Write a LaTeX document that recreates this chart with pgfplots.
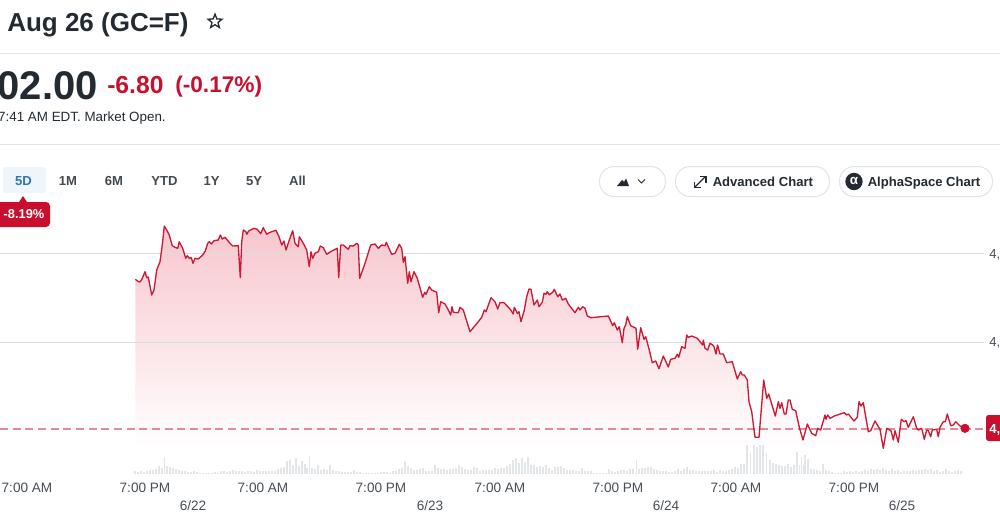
\documentclass[border=0pt]{standalone}
\usepackage{pgfplots}
\usepackage{pgfplotstable}
\pgfplotsset{compat=1.18}
\usetikzlibrary{shapes.geometric}
\usepackage{fontspec}
\setmainfont{Liberation Sans}
\newcommand\fs[1]{\fontsize{#1}{#1}\selectfont}
\definecolor{inkdark}{HTML}{232A31}
\definecolor{inkgray}{HTML}{464E56}
\definecolor{rulegray}{HTML}{E0E4E9}
\definecolor{gridgray}{HTML}{DADDE0}
\definecolor{downred}{HTML}{C8102E}
\definecolor{linered}{HTML}{CB1A36}
\definecolor{dashred}{HTML}{E28C96}
\definecolor{fillred}{HTML}{F7C6CD}
\definecolor{volgray}{HTML}{E3E6E9}
\definecolor{tabblue}{HTML}{EEF6FC}
\definecolor{blue5d}{HTML}{2F74BD}
\definecolor{btn}{HTML}{E0E4E9}

\pgfplotstableread{
x y
135.3 279.3
138 281.3
140 282
142 279
145 271.7
146.7 277.7
148.3 277
151.7 295
154 290
156.7 270
160 261.7
162.3 245
164.3 226
166.7 230
169 234.3
172.3 245.7
175 247.3
177.7 248.3
179.3 241.7
182.7 248.3
185.7 258.3
187.3 255.7
189.3 258.3
191.3 257.7
193 263.3
195 258.3
198.3 259
202.7 255
205.3 251
207.7 243.3
209.3 241.7
211.3 244
214 240.7
218.3 240
220.3 235
222.3 239
225 237.3
230 243.3
232.7 246
238.3 245.7
240.3 277.7
241.7 241.7
243.3 230
246 231.7
246.7 234.3
248.7 231
254 228.3
257.3 229.3
260.7 233.7
263.3 227.7
266.7 234.3
269.3 232.7
271.7 231.7
276 230.3
279 236.7
281.7 245
284 241
286 250
289.3 240
292.7 230.7
295 243.3
298.3 246.7
299.3 236.7
303.3 243.3
306.7 250
309.3 266.7
311 251.7
312.7 258.3
315 253.3
318.3 251.7
320.3 246
323.3 247.7
326.7 254.3
331.7 251
337.3 248.3
338.7 277.7
340.7 245
343.3 245
348.3 249.3
350 245.7
353.3 246
356.7 243.3
358.3 245
359.7 278.3
365 263.3
370.7 245
375 244
378.3 248.3
381.7 245
385 245.7
386.3 242.3
391.7 254.3
395 253.3
399.3 244.3
401.7 248.3
403.3 262.3
405 256.7
407.7 283.3
409.3 271.7
411 281.7
414 271.7
417.3 278.3
422.7 297.3
424.7 292.3
426 294.3
429.3 286.7
431.7 290
436.7 292.3
438.7 312.7
440.7 301.7
445 304
448.3 310
450.7 315
452 306.7
453.3 312.3
458.3 312.7
460 307.3
463.3 310
470 331.7
475 325.7
478.3 321.7
481.7 317.3
484.3 310
486 311.7
491 297.7
495 301.7
497.7 309
500 302.7
504 302.7
510 309
513.3 314
514.3 307.3
517.3 313.3
519 311.7
521 321.7
524.3 310
526.7 296.7
529 289
531 289.3
534 305
537.3 300
539 306.7
542.3 302.3
544 293.3
546 294.3
547.3 291.7
549.3 294.7
552.7 292.3
554.3 289.3
557.7 296.7
560 294
562.3 300
565.7 298.3
568.3 304
575 312.7
578.3 307.3
580 310
582.7 306.7
585 308.3
587.3 316
590.7 317.7
595 317.3
608.3 316
612.7 325.7
614.3 322.7
617.3 330
619.3 326.7
622.3 342.7
624 328.3
625.7 325
627.3 316.7
630.7 325.7
636 328.3
637.7 349.3
640.7 327.7
644 339.3
645.7 336.7
649.3 350
652.3 362.7
655.7 361
659 368.7
663.3 356
668.3 367
670.7 359.3
675 358.3
677.3 354.3
678.7 357.3
681.7 346.7
685 348.3
686.7 335
688.3 337.3
691.7 336
697.3 338.3
702.7 345
703.3 340
705 348.3
707.7 350
710 343.3
712.7 345
714 346.7
716 354
717.5 345
720 354
723.3 354
726.7 362.7
732.3 361.7
737.3 379
740.7 371.7
742.3 375
744.3 375
747.3 380
749 401.7
751.7 411.7
755 437.3
759 437.3
763.7 380
766.7 398.3
768.7 394
775.3 416
778.3 401.7
780 408.3
781.7 402.7
784.3 414
786 414
788.3 400
790 400
792.3 409.3
795.7 410.7
799.3 427.3
803 440
807.3 424
811.7 433.3
815.7 435.7
817.7 428.3
820.7 430
825 415
826 419.3
827.7 415
830 418.3
835 415.7
844.3 412.7
846.7 415
848.3 414
854 421
857.3 417.3
859 401.7
861 406
863.3 402.7
868.3 431.7
870.7 430.7
875 421
880 429.3
883.3 448.3
886.7 428.3
891 430.7
893.3 440
895 430.7
898.3 442.3
901.3 419.3
904 421.7
906 420.7
908.3 427.3
913.3 416.7
916.7 428.3
918.3 430
921.7 428.3
924.3 439.3
926.7 430
928.3 430.7
930.7 436.7
932.3 430
936.7 429.3
938.3 436.7
940 427.3
943.3 421.7
945.3 421.7
947.3 414
950.7 425.7
953.3 425
955.7 421.7
960 426
965 428.3
}\pricedata

\pgfplotstableread{
x h
135 3
138 2
141 3
144 2
147 3
150 4
153 4
156 5
159 8
162 6
164.3 17
167 8
170 7
173 6
176 5
179 4
182 3
185 3
188 2
191 2
194 3
197 2
200 1
203 1
206 1
209 1
212 1
215 2
218 1
221 3
224 3
227 2
230 3
233 4
236 3
239 3
242 3
245 2
248 3
251 3
254 2
257 4
260 3
263 3
266 3
269 3
272 3
275 3
278 5
281 6
284 7
287 13
290 14
293 9
296 16
299 8
302 13
305 10
307 6
309.5 18
312 6
315 5
318 9
321 4
324 5
327 4
330 9
333 4
336 3
339 3
342 2
345 2
348 2
351 2
354 4
357 2
360 2
363 1
366 1
369 1
372 1
375 1
378 1
381 2
384 2
387 2
390 1
393 3
396 3
399 5
402 6
405 13
408 8
411 6
414 4
417 4
420 5
423 6
426 3
429 3
432 3
435 9
438 6
441 5
444 5
447 4
450 5
453 5
456 6
459 9
462 7
465 5
468 4
471 4
474 7
477 6
480 3
483 4
486 4
489 4
492 4
495 6
498 5
501 6
504 6
507 8
510 10
513 14
516 16
519 11
522 16
525 12
528 17
531 9
534 9
537 7
540 8
543 7
546 9
549 6
552 4
555 7
558 7
561 8
564 6
567 4
570 4
573 4
576 3
579 3
582 6
585 3
588 3
591 3
594 1
597 1
600 1
603 1
606 1
609 5
612 3
615 2
618 3
621 4
624 4
627 3
630 5
633 5
636.5 14
639 5
642 6
645 6
648 7
651 7
654 5
657 4
660 3
663 3
666 3
669 2
672 2
675 3
678 5
681 3
684 5
687 7
690 4
693 4
696 3
699 3
702 3
705 3
708 3
711 3
714 4
717 2
720 4
723 3
726 3
729 4
732 5
735 7
738 6
741 10
744 10
747 39
750.7 21
754 34
757 27
760 37
763 39
766.7 21
770 14
773 11
776 10
779 9
782 8
785 8
788 10
791 7
794 9
797 22
799.5 9
801.5 17
803.5 9
805 19
808 15
811 5
814 5
817 4
820 3
823 10
826 4
829 3
832 2
835 1
838 1
841 1
844 3
847 2
850 3
853 2
856 3
859 2
862 3
865 4
868 3
871 5
874 4
877 5
880 4
883 6
886 4
889 3
892 5
895 3
898 4
901 2
904 3
907 3
910 3
913 4
916 3
919 4
922 4
925 5
928 4
931 5
934 3
937 4
940 2
943 3
946 5
949 3
952 2
955 3
958 4
961 3
}\voldata

\begin{document}
\begin{tikzpicture}[x=1pt,y=1pt]
\useasboundingbox (0,0) rectangle (750pt,388.5pt);
\clip (0,0) rectangle (750pt,388.5pt);
% volume axis: heights in px above the baseline
\begin{axis}[at={(0,0)},anchor=south west,scale only axis,width=750pt,height=388.5pt,
  hide axis,xmin=0,xmax=1000,ymin=-44,ymax=474]
\addplot[ycomb,draw=volgray,line width=0.9pt,no marks] table[x=x,y=h] {\voldata};
\end{axis}
% main axis: pixel coordinates
\begin{axis}[at={(0,0)},anchor=south west,scale only axis,width=750pt,height=388.5pt,
  hide axis,xmin=0,xmax=1000,ymin=0,ymax=518,y dir=reverse,clip=false]
% area fill
\addplot[draw=none,top color=fillred,bottom color=white,no marks,forget plot]
  table[x=x,y=y] {\pricedata} -- (965,445) -- (135.3,445) -- cycle;
% gridlines
\addplot[gridgray,line width=0.75pt,no marks] coordinates {(0,253.5) (984,253.5)};
\addplot[gridgray,line width=0.75pt,no marks] coordinates {(0,342.5) (984,342.5)};
% previous close
\addplot[dashred,line width=1pt,dash pattern=on 6pt off 3.5pt,no marks] coordinates {(0,429) (985,429)};
% price
\addplot[linered,line width=1pt,no marks,line join=round] table[x=x,y=y] {\pricedata};
\addplot[only marks,mark=*,mark size=3.2pt,color=downred,mark options={draw=downred,fill=downred}] coordinates {(965,428.3)};

% axis labels
\foreach \xx/\tt in {27/7:00 AM,145/7:00 PM,263/7:00 AM,381/7:00 PM,500/7:00 AM,618/7:00 PM,736/7:00 AM,854/7:00 PM}{
  \edef\tmp{\noexpand\node[text=inkgray,font=\noexpand\fs{10.2pt},anchor=base,inner sep=0] at (\xx,492) {\tt};}\tmp}
\node[text=inkgray,font=\fs{10.2pt},anchor=base,inner sep=0] at (193,510) {6/22};
\node[text=inkgray,font=\fs{10.2pt},anchor=base,inner sep=0] at (430,510) {6/23};
\node[text=inkgray,font=\fs{10.2pt},anchor=base,inner sep=0] at (666,510) {6/24};
\node[text=inkgray,font=\fs{10.2pt},anchor=base,inner sep=0] at (902,510) {6/25};
\node[text=inkgray,font=\fs{9.8pt},anchor=base west,inner sep=0] at (989,258.5) {4,};
\node[text=inkgray,font=\fs{9.8pt},anchor=base west,inner sep=0] at (989,346.5) {4,};
% price tag
\fill[downred,rounded corners=2pt] (986,415) rectangle (1010,441);
\node[text=white,font=\fs{9.8pt}\bfseries,anchor=base west,inner sep=0] at (989,433.5) {4,};

% header
\draw[rulegray,line width=0.75pt] (0,53.5) -- (1000,53.5);
\draw[rulegray,line width=0.75pt] (0,144.5) -- (1000,144.5);
\node[text=inkdark,font=\fs{19.5pt}\bfseries,anchor=base west,inner sep=0] at (7,31) {Aug 26 (GC=F)};
\node[star,star points=5,star point ratio=2.3,draw=inkdark,line width=1pt,minimum size=11pt,inner sep=0] at (215,21.5) {};
\node[text=inkdark,font=\fs{30pt}\bfseries,anchor=base east,inner sep=0] at (98,99) {02.00};
\node[text=downred,font=\fs{18.5pt}\bfseries,anchor=base west,inner sep=0] at (107,93) {-6.80};
\node[text=downred,font=\fs{17pt}\bfseries,anchor=base west,inner sep=0] at (175,92) {(-0.17\%)};
\node[text=inkdark,font=\fs{10.05pt},anchor=base east,inner sep=0] at (166,121) {7:41 AM EDT. Market Open.};

% range tabs
\fill[tabblue,rounded corners=2pt] (3,167) rectangle (46,193);
\node[text=blue5d,font=\fs{9.8pt}\bfseries,anchor=base,inner sep=0] at (23.5,185) {5D};
\foreach \xx/\tt in {68/1M,114/6M,164.5/YTD,211.5/1Y,254/5Y,297.5/All}{
  \edef\tmp{\noexpand\node[text=inkdark!85,font=\noexpand\fs{9.8pt}\noexpand\bfseries,anchor=base,inner sep=0] at (\xx,185) {\tt};}\tmp}
\fill[downred] (19,202) -- (23,196) -- (27,202) -- cycle;
\fill[downred,rounded corners=3pt] (-8,202) rectangle (50,227);
\node[text=white,font=\fs{9.6pt}\bfseries,anchor=base,inner sep=0] at (24,218.5) {-8.19\%};

% buttons
\draw[btn,line width=0.75pt,fill=white,rounded corners=11pt] (599.5,166.5) rectangle (665.5,196.5);
\fill[inkdark] (617,186) -- (622,180) -- (624,182) -- (626,178.5) -- (629,186) -- cycle;
\draw[inkdark,line width=0.75pt] (638,179.5) -- (641.5,183) -- (645,179.5);
\draw[btn,line width=0.75pt,fill=white,rounded corners=11pt] (675.5,166.5) rectangle (829.5,196.5);
\draw[inkdark,line width=0.9pt] (695,187) -- (705,177);
\draw[inkdark,line width=0.9pt] (700,176.5) -- (706,176.5) -- (706,182.5);
\draw[inkdark,line width=0.9pt] (694.5,181.5) -- (694.5,187.5) -- (700.5,187.5);
\node[text=inkdark,font=\fs{9.8pt}\bfseries,anchor=base west,inner sep=0] at (712.5,186) {Advanced Chart};
\draw[btn,line width=0.75pt,fill=white,rounded corners=11pt] (839.5,166.5) rectangle (992.5,196.5);
\fill[inkdark] (854,181.5) circle[radius=6.5pt];
\node[text=white,font=\fs{10pt}\bfseries,inner sep=0] at (854,181) {α};
\node[text=inkdark,font=\fs{9.8pt}\bfseries,anchor=base west,inner sep=0] at (867.5,186) {AlphaSpace Chart};
\end{axis}
\end{tikzpicture}
\end{document}
